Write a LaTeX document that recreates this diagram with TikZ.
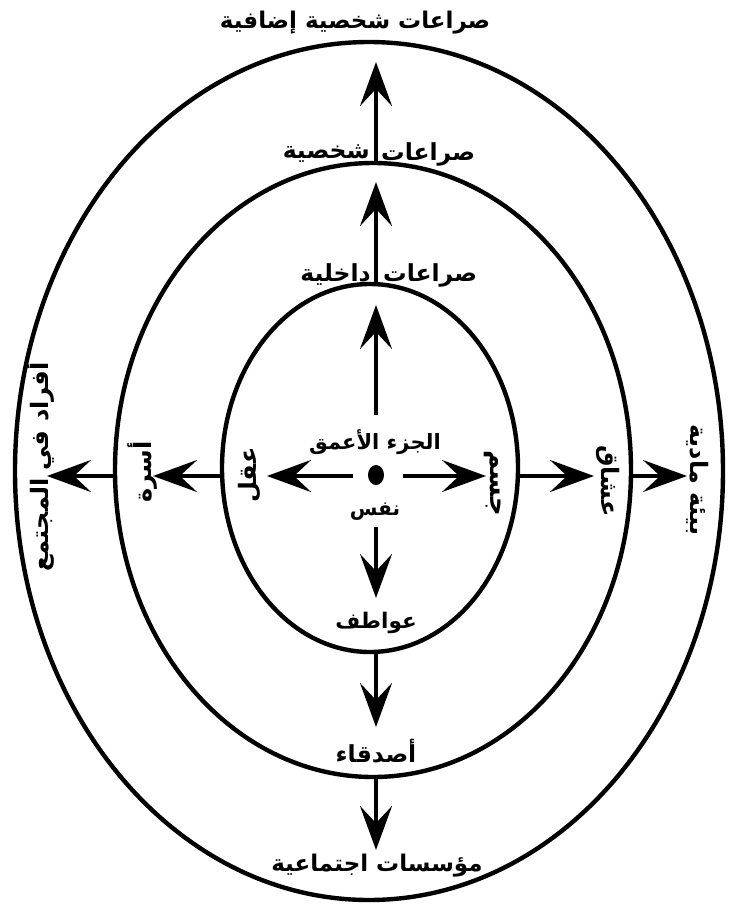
\documentclass[tikz,border=0pt]{standalone}
\usepackage{fontspec}
\newfontfamily\arabicfont[Script=Arabic]{DejaVu Sans}
\TeXXeTstate=1
\usetikzlibrary{arrows.meta,shapes.geometric}
\newcommand{\artxt}[1]{{\arabicfont\beginR #1\endR}}
\newcommand{\fsz}[1]{\fontsize{#1}{#1}\selectfont}
\begin{document}
\begin{tikzpicture}[x=1pt,y=-1pt]
\useasboundingbox (0,0) rectangle (730,908);
\tikzset{
  ring/.style={ellipse, draw, line width=4.4pt, inner sep=0pt, outer sep=0pt},
  arr/.style={line width=3.4pt, -{Stealth[length=44pt,width=32pt,inset=17pt]}},
  lab/.style={font=\arabicfont\bfseries\fsz{22}, inner sep=0pt},
  rlab/.style={font=\arabicfont\bfseries\fsz{24}, inner sep=0pt},
}
% rings
\node[ring, minimum width=708pt, minimum height=858pt] (outer) at (369,471) {};
\node[ring, minimum width=516pt, minimum height=614pt] (middle) at (373,470) {};
\node[ring, minimum width=296pt, minimum height=368pt] (inner) at (370,468) {};
% centre dot
\node[fill, ellipse, minimum width=16pt, minimum height=20pt, inner sep=0pt] (dot) at (376,475) {};
% end points
\coordinate (u1s) at (376,415);
\coordinate (u1e) at (376,305);
\coordinate (u2e) at (376,182);
\coordinate (u3e) at (376,62);
\coordinate (d1s) at (376,527);
\coordinate (d1e) at (376,598);
\coordinate (d2e) at (376,727);
\coordinate (d3e) at (376,850);
\coordinate (l1s) at (353,476);
\coordinate (l1e) at (267,476);
\coordinate (l2e) at (153,476);
\coordinate (l3e) at (47,476);
\coordinate (r1s) at (403,476);
\coordinate (r1e) at (486,476);
\coordinate (r2e) at (594,476);
\coordinate (r3e) at (687,476);
% arrows
\draw[arr] (u1s) -- (u1e);
\draw[arr] (inner.north -| dot) -- (u2e);
\draw[arr] (middle.north -| dot) -- (u3e);
\draw[arr] (d1s) -- (d1e);
\draw[arr] (inner.south -| dot) -- (d2e);
\draw[arr] (middle.south -| dot) -- (d3e);
\draw[arr] (l1s) -- (l1e);
\draw[arr] (inner.west |- l1s) -- (l2e);
\draw[arr] (middle.west |- l1s) -- (l3e);
\draw[arr] (r1s) -- (r1e);
\draw[arr] (inner.east |- r1s) -- (r2e);
\draw[arr] (middle.east |- r1s) -- (r3e);
% labels top
\node[lab, font=\arabicfont\bfseries\fsz{23}] (t3) at (355,23) {\artxt{صراعات شخصية إضافية}};
\node[lab, font=\arabicfont\bfseries\fsz{23.5}, anchor=west] (t2a) at (381,154) {\artxt{صراعات}};
\node[lab, font=\arabicfont\bfseries\fsz{23.5}, anchor=east] (t2b) at (370,154) {\artxt{شخصية}};
\node[lab, font=\arabicfont\bfseries\fsz{23.5}, anchor=west] (t1a) at (383,275) {\artxt{صراعات}};
\node[lab, font=\arabicfont\bfseries\fsz{23.5}, anchor=east] (t1b) at (371,275) {\artxt{داخلية}};
% centre
\node[lab, font=\arabicfont\bfseries\fsz{21}] (deep) at (375,442) {\artxt{الجزء الأعمق}};
\node[lab, font=\arabicfont\bfseries\fsz{20}] (nafs) at (375,512) {\artxt{نفس}};
% bottom
\node[lab, font=\arabicfont\bfseries\fsz{21.5}] (b1) at (376,623) {\artxt{عواطف}};
\node[lab, font=\arabicfont\bfseries\fsz{23.5}] (b2) at (376,751) {\artxt{أصدقاء}};
\node[lab, font=\arabicfont\bfseries\fsz{23}] (b3) at (377,866) {\artxt{مؤسسات اجتماعية}};
% left (rotated)
\node[rlab, rotate=90] (l1) at (250,475) {\artxt{عقل}};
\node[rlab, rotate=90] (l2) at (143,472) {\artxt{أسرة}};
\node[rlab, rotate=90] (l3) at (40,467) {\artxt{أفراد في المجتمع}};
% right (rotated)
\node[rlab, font=\arabicfont\bfseries\fsz{26}, rotate=-90] (r1) at (493,483) {\artxt{جسم}};
\node[rlab, rotate=-90] (r2) at (608,481) {\artxt{عشاق}};
\node[rlab, rotate=-90] (r3) at (698,480) {\artxt{بيئة مادية}};
\end{tikzpicture}
\end{document}
